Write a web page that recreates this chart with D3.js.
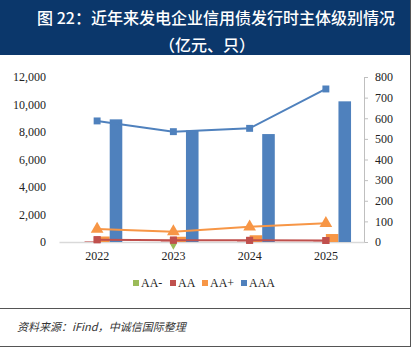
<!DOCTYPE html>
<html><head><meta charset="utf-8">
<script src="https://cdn.jsdelivr.net/npm/d3@7/dist/d3.min.js"></script>
<style>html,body{margin:0;padding:0;background:#fff;}svg{display:block;}</style>
</head><body>
<script>
const years = ["2022","2023","2024","2025"];
const seriesNames = ["AA-","AA","AA+","AAA"];
const seriesColors = ["#9bbb59","#c0504d","#f79646","#4f81bd"];
// bond issuance amount (亿元), left axis
const amtAAm = [0, 0, 0, 0];
const amtAA = [40, 35, 30, 25];
const amtAAp = [400, 380, 490, 580];
const amtAAA = [8920, 8120, 7850, 10230];
// number of issuers (只), right axis
const cntAAm = [null, 1, null, null];
const cntAA = [11, 9, 8, 7];
const cntAAp = [63, 50, 74, 91];
const cntAAA = [587, 535, 551, 742];
const leftTicks = [0,2000,4000,6000,8000,10000,12000];
const rightTicks = [0,100,200,300,400,500,600,700,800];
const titleLines = ["图 22：近年来发电企业信用债发行时主体级别情况","（亿元、只）"];
const sourceText = "资料来源：iFind，中诚信国际整理";

const W=415,H=348;
const svg=d3.select("body").append("svg").attr("width",W).attr("height",H);
svg.append("rect").attr("x",0).attr("y",0).attr("width",410).attr("height",55).attr("fill","#0b376b");
svg.append("line").attr("x1",410.5).attr("x2",410.5).attr("y1",0).attr("y2",347).attr("stroke","#555").attr("stroke-width",1);
svg.append("line").attr("x1",0).attr("x2",411).attr("y1",308.5).attr("y2",308.5).attr("stroke","#555");
svg.append("line").attr("x1",0).attr("x2",411).attr("y1",346.5).attr("y2",346.5).attr("stroke","#555");
svg.selectAll("text.title").data(titleLines).join("text").attr("class","title")
  .attr("x",(d,i)=>i===0?216:207).attr("y",(d,i)=>i===0?24:51)
  .attr("text-anchor","middle").attr("fill","#fff")
  .attr("font-family","'Noto Sans CJK SC'").attr("font-size",16).attr("font-weight",500).text(d=>d);

const x0=d3.scaleBand().domain(years).range([59,364]).paddingInner(0.34).paddingOuter(0.17);
const x1=d3.scaleBand().domain(seriesNames).range([0,x0.bandwidth()]);
const yL=d3.scaleLinear().domain([0,12000]).range([242,77]);
const yR=d3.scaleLinear().domain([0,800]).range([242,77]);
const cx=d=>x0(d)+x0.bandwidth()/2;

// axes
const gl=svg.append("g").attr("transform","translate(59,0)")
  .call(d3.axisLeft(yL).tickValues(leftTicks).tickFormat(d3.format(",")).tickSize(0).tickPadding(13));
gl.select(".domain").remove();
gl.selectAll("text").attr("font-family","'Liberation Serif'").attr("font-size",12).attr("fill","#222");
const gr=svg.append("g").attr("transform","translate(364,0)")
  .call(d3.axisRight(yR).tickValues(rightTicks).tickSize(4).tickPadding(7));
gr.select(".domain").attr("stroke","#bfbfbf");
gr.selectAll("line").attr("stroke","#bfbfbf");
gr.selectAll("text").attr("font-family","'Liberation Serif'").attr("font-size",12).attr("fill","#222");
const gx=svg.append("g").attr("transform","translate(0,242)")
  .call(d3.axisBottom(x0).tickSize(0).tickPadding(9));
gx.select(".domain").attr("stroke","#d9d9d9").attr("stroke-width",1.5);
gx.selectAll("text").attr("font-family","'Liberation Serif'").attr("font-size",12).attr("fill","#222");

// bars
const amts=[amtAAm,amtAA,amtAAp,amtAAA];
amts.forEach((arr,si)=>{
  svg.append("g").selectAll("rect").data(arr.map((v,i)=>({v,y:years[i]}))).join("rect")
    .attr("x",d=>x0(d.y)+x1(seriesNames[si])).attr("width",x1.bandwidth())
    .attr("y",d=>yL(d.v)).attr("height",d=>242-yL(d.v)).attr("fill",seriesColors[si]);
});

// lines
const cnts=[cntAAm,cntAA,cntAAp,cntAAA];
const shapes=[d3.symbolDiamond,d3.symbolSquare,d3.symbolTriangle,d3.symbolSquare];
const sizes=[40,48,70,48];
cnts.forEach((arr,si)=>{
  const pts=arr.map((v,i)=>({v,y:years[i]})).filter(d=>d.v!==null);
  const line=d3.line().x(d=>cx(d.y)).y(d=>yR(d.v));
  svg.append("path").datum(pts).attr("d",line).attr("fill","none")
    .attr("stroke",seriesColors[si]).attr("stroke-width",2);
  svg.append("g").selectAll("path").data(pts).join("path")
    .attr("transform",d=>`translate(${cx(d.y)},${yR(d.v)+(si===0?2:0)})`)
    .attr("d",d3.symbol().type(shapes[si]).size(sizes[si])).attr("fill",seriesColors[si]);
});
// redraw AA markers over AA-
svg.append("g").selectAll("path").data(cntAA.map((v,i)=>({v,y:years[i]}))).join("path")
  .attr("transform",d=>`translate(${cx(d.y)},${yR(d.v)})`)
  .attr("d",d3.symbol().type(d3.symbolSquare).size(48)).attr("fill",seriesColors[1]);

// legend
const legX=[133,170,202,241];
const lg=svg.append("g").selectAll("g").data(seriesNames).join("g")
  .attr("transform",(d,i)=>`translate(${legX[i]},283)`);
lg.append("rect").attr("x",0).attr("y",-3).attr("width",6).attr("height",6).attr("fill",(d,i)=>seriesColors[i]);
lg.append("text").attr("x",8).attr("y",4).attr("font-family","'Liberation Serif'").attr("font-size",12).attr("fill","#222").text(d=>d);

svg.append("text").attr("x",17).attr("y",331).attr("font-family","'Noto Sans CJK SC'")
  .attr("font-style","italic").attr("font-size",11).attr("fill","#333").text(sourceText);
</script>
</body></html>
